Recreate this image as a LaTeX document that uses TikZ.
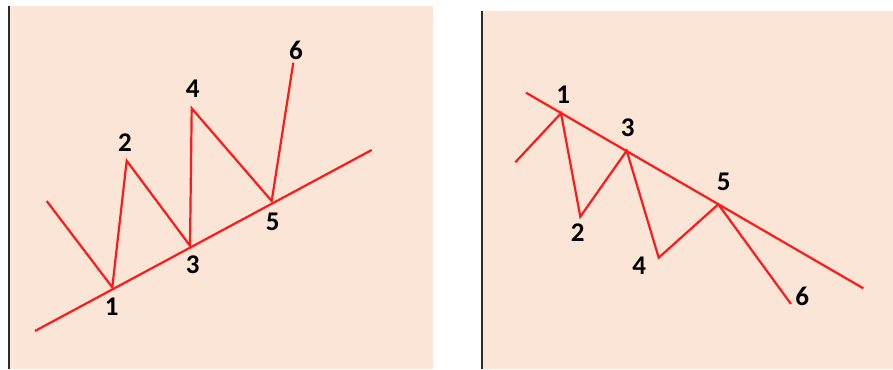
\documentclass[tikz,border=0pt]{standalone}
\usepackage{fontspec}
\setmainfont{Carlito}
\definecolor{peach}{HTML}{FBE5D6}
\definecolor{wave}{HTML}{FF1A1A}
\definecolor{axis}{HTML}{2B2B2B}
\tikzset{
  panel/.style={fill=peach, draw=none},
  axisline/.style={draw=axis, line width=2pt},
  waveline/.style={draw=wave, line width=2.2pt, line join=miter},
  lbl/.style={font=\fontsize{27}{29}\selectfont\bfseries, text=black, inner sep=0pt}
}
\begin{document}
\begin{tikzpicture}[x=1pt, y=-1pt]
\useasboundingbox (0,0) rectangle (893,369);
\fill[white] (0,0) rectangle (893,369);
% panels
\path[panel] (9,6) rectangle (433,369);
\path[panel] (482,11) rectangle (893,369);
\draw[axisline] (9,6) -- (9,369);
\draw[axisline] (482,11) -- (482,369);
% left panel
\coordinate (L0) at (46.7,201);
\coordinate (L1) at (112.3,287.3);
\coordinate (L2) at (126.7,160.7);
\coordinate (L3) at (190,245.7);
\coordinate (L4) at (191.7,108.3);
\coordinate (L5) at (271.7,201);
\coordinate (L6) at (293.3,62.7);
\coordinate (LTa) at (35,331);
\coordinate (LTb) at (371.7,150);
\draw[waveline] (LTa) -- (LTb);
\draw[waveline] (L0) -- (L1) -- (L2) -- (L3) -- (L4) -- (L5) -- (L6);
\node[lbl] (l1) at (111.7,306.7) {1};
\node[lbl] (l2) at (125,142.7) {2};
\node[lbl] (l3) at (192.7,265) {3};
\node[lbl] (l4) at (192.7,88.3) {4};
\node[lbl] (l5) at (272.7,221.7) {5};
\node[lbl] (l6) at (296,50) {6};
% right panel
\coordinate (R0) at (515.3,162.3);
\coordinate (R1) at (561,113.3);
\coordinate (R2) at (580.3,216.7);
\coordinate (R3) at (626.7,150.7);
\coordinate (R4) at (658.7,257.7);
\coordinate (R5) at (718.3,204.3);
\coordinate (R6) at (791,304);
\coordinate (RTa) at (526,92.7);
\coordinate (RTb) at (863.3,288.3);
\draw[waveline] (RTa) -- (RTb);
\draw[waveline] (R0) -- (R1) -- (R2) -- (R3) -- (R4) -- (R5) -- (R6);
\node[lbl] (r1) at (563.3,95) {1};
\node[lbl] (r2) at (577.7,232.3) {2};
\node[lbl] (r3) at (627.7,127.7) {3};
\node[lbl] (r4) at (639.3,265.7) {4};
\node[lbl] (r5) at (723.7,181.7) {5};
\node[lbl] (r6) at (802.3,296) {6};
\end{tikzpicture}
\end{document}
